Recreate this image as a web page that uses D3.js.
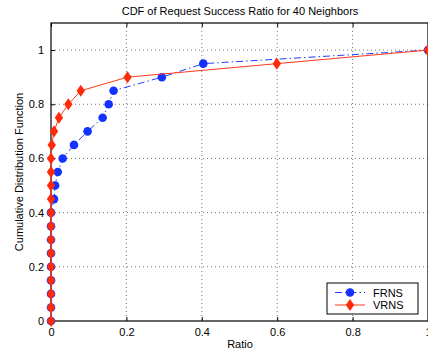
<!DOCTYPE html>
<html>
<head>
<meta charset="utf-8">
<script src="https://cdn.jsdelivr.net/npm/d3@7"></script>
<style>
  body { margin: 0; background: #fff; }
  svg { display: block; font-family: "Liberation Sans", Arial, sans-serif; }
</style>
</head>
<body>
<svg id="chart" width="428" height="352"></svg>
<script>
// data
const frnsX = [0, 0, 0, 0, 0, 0, 0, 0, 0, 0.008, 0.011, 0.018, 0.031, 0.061, 0.097, 0.137, 0.153, 0.166, 0.294, 0.404, 1.0];
const frnsY = [0, 0.05, 0.1, 0.15, 0.2, 0.25, 0.3, 0.35, 0.4, 0.45, 0.5, 0.55, 0.6, 0.65, 0.7, 0.75, 0.8, 0.85, 0.9, 0.95, 1.0];
const vrnsX = [0, 0, 0, 0, 0, 0, 0, 0, 0, 0, 0, 0, 0, 0.002, 0.008, 0.021, 0.046, 0.079, 0.203, 0.599, 1.0];
const vrnsY = [0, 0.05, 0.1, 0.15, 0.2, 0.25, 0.3, 0.35, 0.4, 0.45, 0.5, 0.55, 0.6, 0.65, 0.7, 0.75, 0.8, 0.85, 0.9, 0.95, 1.0];
const xTicks = [0, 0.2, 0.4, 0.6, 0.8, 1];
const yTicks = [0, 0.2, 0.4, 0.6, 0.8, 1];

const svg = d3.select("#chart");
const pLeft = 51, pRight = 428, pTop = 23, pBottom = 321;

const x = d3.scaleLinear().domain([0, 1]).range([pLeft, pRight]);
const y = d3.scaleLinear().domain([0, 1.1]).range([pBottom, pTop]);

// grid
const grid = svg.append("g")
  .attr("stroke", "#555")
  .attr("stroke-width", 0.8)
  .attr("stroke-dasharray", "1,3");
grid.selectAll(".gx").data(xTicks.filter(d => d > 0 && d < 1)).enter()
  .append("line")
  .attr("x1", d => x(d)).attr("x2", d => x(d))
  .attr("y1", pTop).attr("y2", pBottom);
grid.selectAll(".gy").data(yTicks.filter(d => d > 0)).enter()
  .append("line")
  .attr("y1", d => y(d)).attr("y2", d => y(d))
  .attr("x1", pLeft).attr("x2", pRight);

// axes, ticks inward like matlab
svg.append("g")
  .attr("transform", `translate(0,${pBottom})`)
  .call(d3.axisBottom(x).tickValues(xTicks).tickSize(-4).tickPadding(7).tickFormat(d3.format("")))
  .call(g => g.select(".domain").remove());
svg.append("g")
  .attr("transform", `translate(0,${pTop})`)
  .call(d3.axisTop(x).tickValues(xTicks).tickSize(-4).tickFormat(""))
  .call(g => g.select(".domain").remove());
svg.append("g")
  .attr("transform", `translate(${pLeft},0)`)
  .call(d3.axisLeft(y).tickValues(yTicks).tickSize(-4).tickPadding(7).tickFormat(d3.format("")))
  .call(g => g.select(".domain").remove());

svg.selectAll(".tick text").attr("font-size", 11).attr("fill", "#000")
  .attr("font-family", "Liberation Sans, Arial, sans-serif");
svg.selectAll(".tick line").attr("stroke", "#000");

svg.append("rect")
  .attr("x", pLeft).attr("y", pTop)
  .attr("width", pRight - pLeft).attr("height", pBottom - pTop)
  .attr("fill", "none").attr("stroke", "#000").attr("stroke-width", 1.2);

// series
const line = d3.line().x(d => x(d[0])).y(d => y(d[1]));
const frns = frnsX.map((v, i) => [v, frnsY[i]]);
const vrns = vrnsX.map((v, i) => [v, vrnsY[i]]);

svg.append("path").datum(frns)
  .attr("d", line).attr("fill", "none")
  .attr("stroke", "#1f3cff").attr("stroke-width", 1)
  .attr("stroke-dasharray", "7,3,1.5,3");
svg.append("g").selectAll("circle").data(frns).enter()
  .append("circle")
  .attr("cx", d => x(d[0])).attr("cy", d => y(d[1]))
  .attr("r", 4.3).attr("fill", "#1432ff");

svg.append("path").datum(vrns)
  .attr("d", line).attr("fill", "none")
  .attr("stroke", "#ff3a1a").attr("stroke-width", 1);
const diamond = d3.symbol().type(d3.symbolDiamond2).size(70);
svg.append("g").selectAll("path").data(vrns).enter()
  .append("path")
  .attr("d", diamond)
  .attr("transform", d => `translate(${x(d[0])},${y(d[1])}) scale(0.8,1.15)`)
  .attr("fill", "#ff2a0a");

// labels
svg.append("text").attr("x", 240).attr("y", 15).attr("text-anchor", "middle")
  .attr("font-size", 11).text("CDF of Request Success Ratio for 40 Neighbors");
svg.append("text").attr("x", 240).attr("y", 348).attr("text-anchor", "middle")
  .attr("font-size", 11).text("Ratio");
svg.append("text")
  .attr("transform", `translate(23,${(pTop + pBottom) / 2}) rotate(-90)`)
  .attr("text-anchor", "middle").attr("font-size", 11)
  .text("Cumulative Distribution Function");

// legend
const lg = svg.append("g").attr("transform", "translate(327,283)");
lg.append("rect").attr("width", 91).attr("height", 31)
  .attr("fill", "#fff").attr("stroke", "#000").attr("stroke-width", 1);
lg.append("line").attr("x1", 8).attr("x2", 38).attr("y1", 9.5).attr("y2", 9.5)
  .attr("stroke", "#1f3cff").attr("stroke-dasharray", "7,3,1.5,3");
lg.append("circle").attr("cx", 23).attr("cy", 9.5).attr("r", 4.3).attr("fill", "#1432ff");
lg.append("text").attr("x", 46).attr("y", 13.5).attr("font-size", 11).text("FRNS");
lg.append("line").attr("x1", 8).attr("x2", 38).attr("y1", 22).attr("y2", 22)
  .attr("stroke", "#ff3a1a");
lg.append("path").attr("d", diamond)
  .attr("transform", "translate(23,22) scale(0.8,1.15)").attr("fill", "#ff2a0a");
lg.append("text").attr("x", 46).attr("y", 26).attr("font-size", 11).text("VRNS");
</script>
</body>
</html>
